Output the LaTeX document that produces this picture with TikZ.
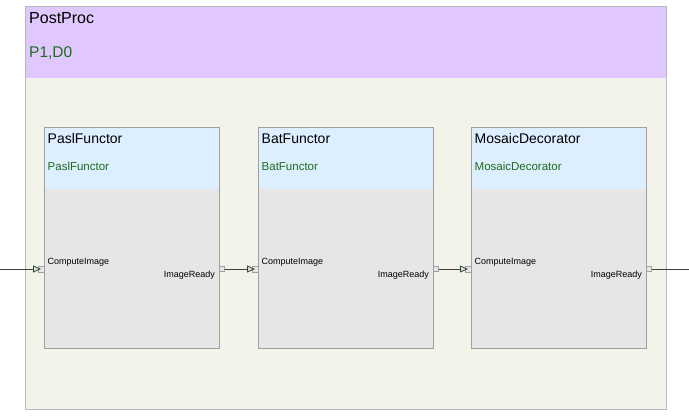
\documentclass[tikz,border=0pt]{standalone}
\usepackage{fontspec}
\setmainfont{Liberation Sans}
\usetikzlibrary{arrows.meta}
\definecolor{hdrpurple}{RGB}{224,200,255}
\definecolor{bodybeige}{RGB}{243,243,234}
\definecolor{hdrblue}{RGB}{221,238,255}
\definecolor{bodygray}{RGB}{230,230,230}
\definecolor{edgegray}{RGB}{160,160,160}
\definecolor{outeredge}{RGB}{185,185,185}
\definecolor{txtgreen}{RGB}{28,108,28}
\definecolor{wiregray}{RGB}{64,64,64}
\definecolor{tipgreen}{RGB}{200,240,190}
\tikzset{
  outerbox/.style={draw=outeredge, line width=1pt, fill=bodybeige},
  comp/.style={draw=edgegray, line width=1pt, fill=bodygray},
  comphdr/.style={fill=hdrblue},
  bigtitle/.style={anchor=base west, inner sep=0pt, font=\fontsize{16}{18}\selectfont},
  bigsub/.style={anchor=base west, inner sep=0pt, text=txtgreen, font=\fontsize{15.5}{17}\selectfont},
  ctitle/.style={anchor=base west, inner sep=0pt, font=\fontsize{14}{16}\selectfont},
  csub/.style={anchor=base west, inner sep=0pt, text=txtgreen, font=\fontsize{11.5}{13}\selectfont},
  portlbl/.style={inner sep=0pt, font=\fontsize{9}{10}\selectfont},
  inport/.style={draw=edgegray, fill=bodygray, rectangle, minimum width=6pt, minimum height=6pt, inner sep=0pt, line width=0.6pt},
  outport/.style={draw=edgegray, fill=bodygray, rectangle, minimum width=5pt, minimum height=5pt, inner sep=0pt, line width=0.6pt},
  wire/.style={draw=wiregray, line width=0.8pt},
  arrowwire/.style={wire, -{Triangle[length=8pt,width=7pt,fill=tipgreen]}},
}
\begin{document}
\begin{tikzpicture}[x=1pt,y=-1pt]
\useasboundingbox (0,0) rectangle (689,417);
% outer container
\path[outerbox] (25,7) rectangle (666,409);
\path[fill=hdrpurple] (25.5,7.5) rectangle (665.5,78);
\path[draw=outeredge, line width=1pt] (25,7) rectangle (666,409);
\node[bigtitle] (pp) at (29,24) {PostProc};
\node[bigsub] (ppsub) at (29,58) {P1,D0};

% components
\foreach \x/\n/\t in {44/a/PaslFunctor, 258/b/BatFunctor, 471/c/MosaicDecorator}{
  \path[comp] (\x,128) rectangle ++(175,220);
  \path[comphdr] (\x+0.5,128.5) rectangle ++(174,60.5);
  \path[draw=edgegray, line width=1pt] (\x,128) rectangle ++(175,220);
  \node[ctitle] (\n-title) at (\x+3.5,143.5) {\t};
  \node[csub] (\n-sub) at (\x+3.5,171) {\t};
  \node[portlbl, anchor=base west] (\n-inlbl) at (\x+3.5,265) {ComputeImage};
  \node[portlbl, anchor=base east] (\n-outlbl) at (\x+171,277.5) {ImageReady};
  \node[inport] (\n-in) at (\x-3,269) {};
  \node[outport] (\n-out) at (\x+178,269) {};
}

\coordinate (src) at (0,269);
\coordinate (snk) at (689,269);
\draw[arrowwire] (src) -- (a-in.center);
\draw[arrowwire] (a-out.east) -- (b-in.center);
\draw[arrowwire] (b-out.east) -- (c-in.center);
\draw[wire] (c-out.east) -- (snk);
\end{tikzpicture}
\end{document}
